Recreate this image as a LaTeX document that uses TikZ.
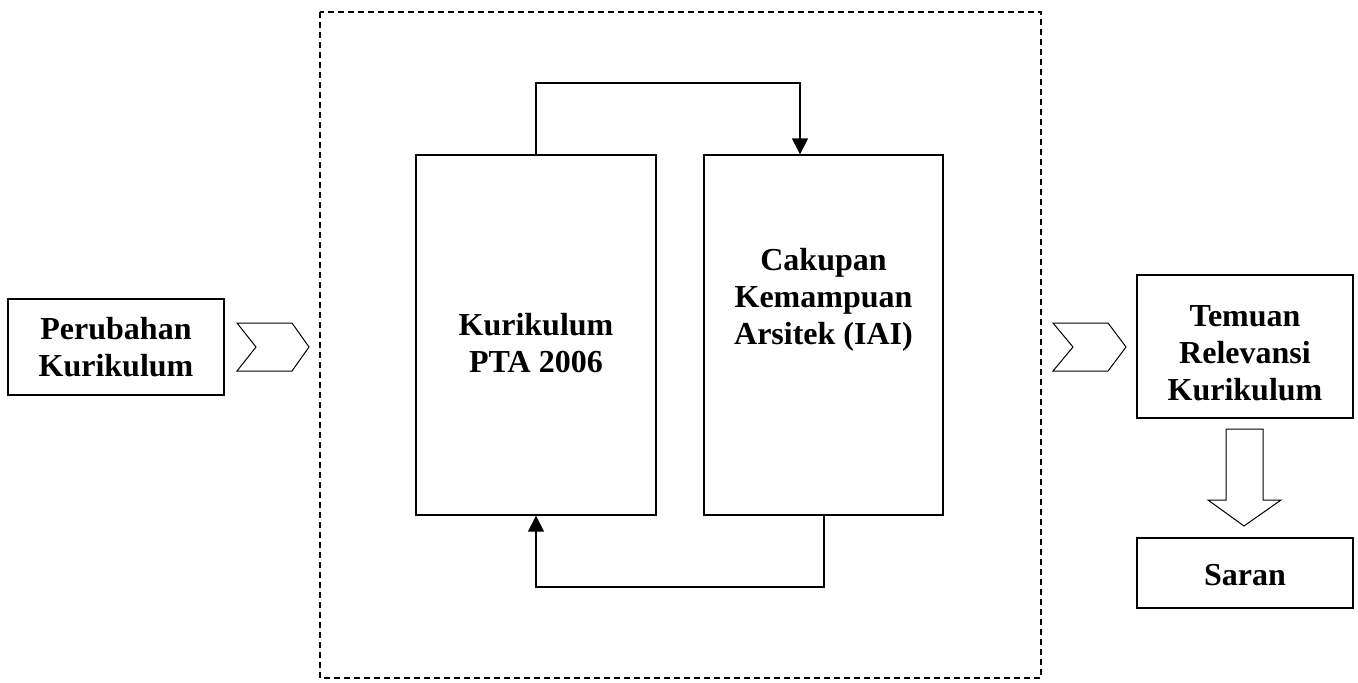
\documentclass[tikz,border=0pt]{standalone}
\usepackage{fontspec}
\setmainfont{Liberation Serif}
\usetikzlibrary{arrows.meta}
\begin{document}
\begin{tikzpicture}[x=1pt,y=-1pt,line width=1.4pt,
  box/.style={draw,rectangle,inner sep=0pt},
  lbl/.style={font=\fontsize{32}{37}\selectfont\bfseries,align=center,inner sep=0pt},
  arr/.style={-{Triangle[width=16pt,length=16pt]}},
  shp/.style={draw,line width=1pt,line join=miter}]
\useasboundingbox (0,0) rectangle (1358,683);
% dashed frame
\draw[dash pattern=on 6pt off 4pt,line width=1.2pt] (320,12) rectangle (1041,678);
% boxes
\node[box,minimum width=216pt,minimum height=96pt] (perubahan) at (116,347) {};
\node[lbl] at (116,347) {Perubahan\\Kurikulum};
\node[box,minimum width=240pt,minimum height=360pt] (kur) at (536,335) {};
\node[lbl] (kurt) at (536,343) {Kurikulum\\PTA 2006};
\node[box,minimum width=239pt,minimum height=360pt] (cak) at (823.5,335) {};
\node[lbl] (cakt) at (823.5,300) {Cakupan\\Kemampuan\\Arsitek (IAI)};
\node[box,minimum width=216pt,minimum height=143pt] (temuan) at (1245,346.5) {};
\node[lbl] at (1245,353) {Temuan\\Relevansi\\Kurikulum};
\node[box,minimum width=216pt,minimum height=70pt] (saran) at (1245,573) {};
\node[lbl] at (1245,575) {Saran};
% connectors
\coordinate (t1) at (536,83);
\coordinate (t2) at (800,83);
\coordinate (b1) at (824,587);
\coordinate (b2) at (536,587);
\draw[arr] (kur.north) -- (t1) -- (t2) -- (t2 |- cak.north);
\draw[arr] (b1 |- cak.south) -- (b1) -- (b2) -- (kur.south);
% chevrons
\draw[shp] (237,323) -- (292,323) -- (309,347) -- (292,371) -- (237,371) -- (256,347) -- cycle;
\draw[shp] (1053,323) -- (1108,323) -- (1126,347) -- (1108,371) -- (1053,371) -- (1073,347) -- cycle;
% big down arrow
\draw[shp] (1226,429) -- (1263,429) -- (1263,500) -- (1281,500) -- (1244,526) -- (1208,500) -- (1226,500) -- cycle;
\end{tikzpicture}
\end{document}
